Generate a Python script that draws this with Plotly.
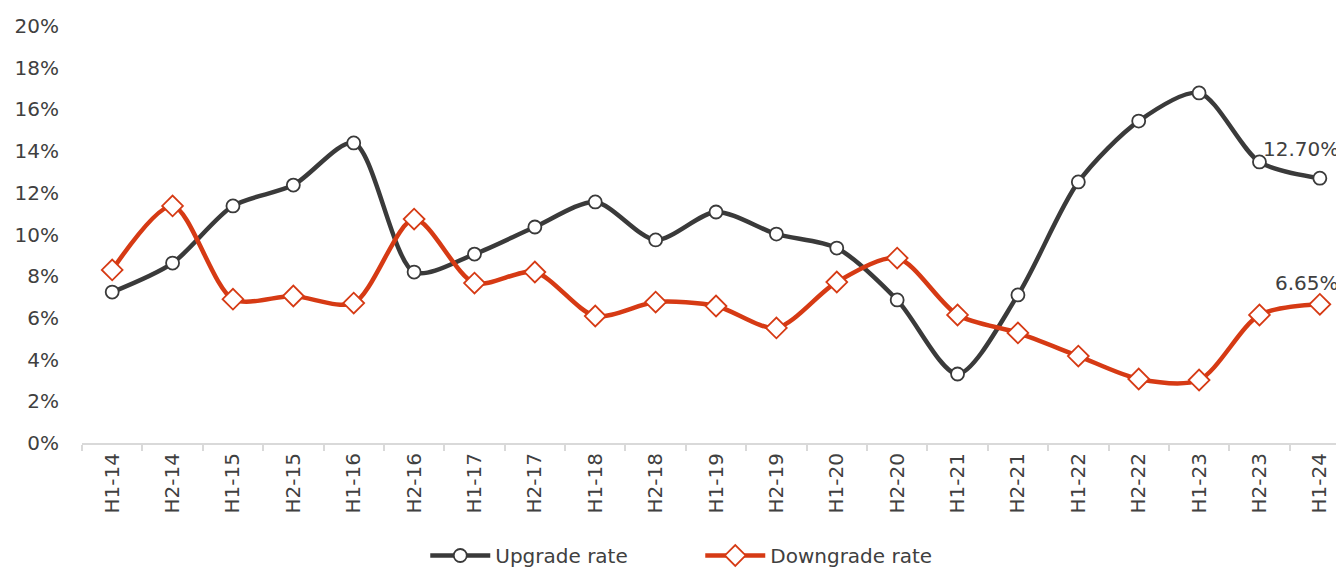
import plotly.graph_objects as go

periods = ["H1-14", "H2-14", "H1-15", "H2-15", "H1-16", "H2-16", "H1-17", "H2-17",
           "H1-18", "H2-18", "H1-19", "H2-19", "H1-20", "H2-20", "H1-21", "H2-21",
           "H1-22", "H2-22", "H1-23", "H2-23", "H1-24"]
upgrade_rate = [7.24, 8.63, 11.37, 12.37, 14.39, 8.2, 9.06, 10.36, 11.56, 9.74, 11.08,
                10.02, 9.35, 6.86, 3.31, 7.1, 12.52, 15.44, 16.79, 13.48, 12.70]
downgrade_rate = [8.3, 11.37, 6.9, 7.05, 6.71, 10.74, 7.67, 8.2, 6.09, 6.76, 6.57,
                  5.52, 7.72, 8.87, 6.14, 5.28, 4.17, 3.07, 3.02, 6.14, 6.65]
y_ticks = [0, 2, 4, 6, 8, 10, 12, 14, 16, 18, 20]
y_tick_labels = [f"{v}%" for v in y_ticks]

DARK = "#3a3a3a"
RED = "#d63a14"
FONT = "DejaVu Sans"
TXT = "#404040"

fig = go.Figure()
fig.add_trace(go.Scatter(
    x=periods, y=upgrade_rate, name="Upgrade rate", mode="lines+markers",
    line=dict(color=DARK, width=4.5, shape="spline", smoothing=0.8),
    marker=dict(symbol="circle", size=13, color="white", line=dict(color=DARK, width=1.8)),
))
fig.add_trace(go.Scatter(
    x=periods, y=downgrade_rate, name="Downgrade rate", mode="lines+markers",
    line=dict(color=RED, width=4.5, shape="spline", smoothing=0.8),
    marker=dict(symbol="diamond", size=16, color="white", line=dict(color=RED, width=1.8)),
))

for vals, ys in ((upgrade_rate, 15), (downgrade_rate, 7)):
    fig.add_annotation(x=periods[-1], y=vals[-1], text=f"{vals[-1]:.2f}%",
                       showarrow=False, xanchor="right", yanchor="bottom",
                       xshift=21, yshift=ys, font=dict(family=FONT, size=20, color=TXT))

# page body has an 8px margin: compensate so the plot area lands where the reference has it
fig.update_layout(
    width=1336, height=569,
    margin=dict(l=74, r=0, t=18, b=134),
    plot_bgcolor="white", paper_bgcolor="white",
    font=dict(family=FONT, size=20, color=TXT),
    showlegend=True,
    legend=dict(orientation="h", x=0.272, xanchor="left", y=-0.3165, yanchor="bottom",
                font=dict(family=FONT, size=20, color=TXT), entrywidth=200,
                entrywidthmode="pixels", itemwidth=60, tracegroupgap=0),
)
fig.update_xaxes(
    showgrid=False, showline=True, linecolor="#d9d9d9", linewidth=2,
    ticks="outside", tickson="boundaries", ticklen=6, tickcolor="#d9d9d9", tickwidth=1.5,
    tickangle=-90, tickfont=dict(family=FONT, size=20, color=TXT),
    range=[-0.5, 20.4],
)
fig.update_yaxes(
    range=[0, 20], tickvals=y_ticks, ticktext=y_tick_labels,
    showgrid=False, showline=False, zeroline=False,
    ticks="", ticklabelstandoff=22, tickfont=dict(family=FONT, size=20, color=TXT),
)

fig.write_html("out.html")
